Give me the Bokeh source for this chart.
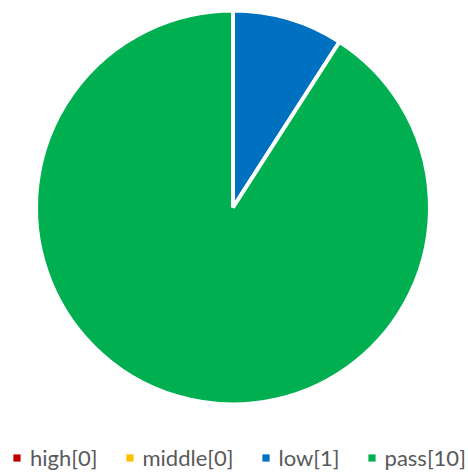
import math
from bokeh.plotting import figure
from bokeh.models import ColumnDataSource, Legend, LegendItem, Range1d
from bokeh.embed import file_html
from bokeh.resources import INLINE

# ---- data ----
categories = ["high", "middle", "low", "pass"]
values = [0, 0, 1, 10]
colors = ["#C00000", "#FFC000", "#0070C0", "#00B050"]

W, H = 468, 473
total = sum(values)
starts, ends = [], []
cum = 0
for v in values:
    a0 = math.pi / 2 - 2 * math.pi * cum / total
    cum += v
    a1 = math.pi / 2 - 2 * math.pi * cum / total
    starts.append(a0)
    ends.append(a1)

labels = [f"{c}[{v}]" for c, v in zip(categories, values)]
src = ColumnDataSource(dict(cat=categories, val=values, start=starts, end=ends,
                            color=colors, label=labels))

p = figure(width=W, height=H, output_backend="svg", toolbar_location=None,
           x_range=Range1d(0, W), y_range=Range1d(0, H),
           min_border=0, outline_line_color=None)
p.axis.visible = False
p.grid.visible = False
p.background_fill_color = "white"
p.border_fill_color = "white"

cx, cy, r = 232.5, H - 207, 197
p.wedge(x=cx, y=cy, radius=r, start_angle="start", end_angle="end",
        direction="clock", fill_color="color", line_color="white",
        line_width=4, source=src)

nan = float("nan")
items = []
for lab, col in zip(labels, colors):
    rr = p.quad(left=[nan], right=[nan], top=[nan], bottom=[nan],
                fill_color=col, line_color=None)
    items.append(LegendItem(label=lab, renderers=[rr]))

legend = Legend(items=items, orientation="horizontal", location=(12, 2),
                glyph_width=9, glyph_height=9, label_standoff=9, spacing=27,
                padding=0, margin=0, border_line_color=None,
                background_fill_alpha=0,
                label_text_font="Lato", label_text_font_size="22px",
                label_text_color="#595959")
p.add_layout(legend)

open("out.html", "w").write(file_html(p, INLINE))
